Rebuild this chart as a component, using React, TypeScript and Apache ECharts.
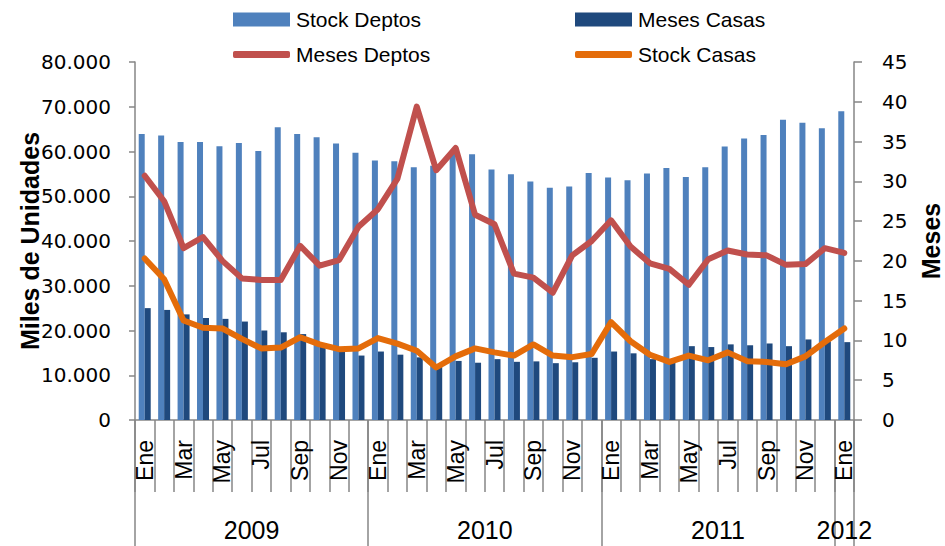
import React, { useEffect, useRef } from 'react';
import * as echarts from 'echarts';

const categories = [
  'Ene', 'Feb', 'Mar', 'Abr', 'May', 'Jun', 'Jul', 'Ago', 'Sep', 'Oct', 'Nov', 'Dic',
  'Ene', 'Feb', 'Mar', 'Abr', 'May', 'Jun', 'Jul', 'Ago', 'Sep', 'Oct', 'Nov', 'Dic',
  'Ene', 'Feb', 'Mar', 'Abr', 'May', 'Jun', 'Jul', 'Ago', 'Sep', 'Oct', 'Nov', 'Dic',
  'Ene',
];

const yearLabels = ['2009', '2010', '2011', '2012'];
const yearCenters = [6, 18, 30, 36.5];
const yearBounds = [0, 12, 24, 36, 37];

const stockDeptos = [
  63900, 63600, 62100, 62100, 61200, 61900, 60100, 65400, 63900, 63200, 61800, 59700,
  58000, 57800, 56500, 56800, 59600, 59400, 56000, 54900, 53300, 51900, 52200, 55200,
  54200, 53600, 55100, 56300, 54300, 56500, 61100, 62900, 63700, 67100, 66400, 65200,
  69000,
];

const mesesCasas = [
  25000, 24600, 23600, 22800, 22600, 22000, 20000, 19600, 19200, 16800, 15800, 14400,
  15300, 14600, 14000, 12000, 13200, 12800, 13600, 13000, 13100, 12700, 12900, 13900,
  15300, 14900, 13600, 12800, 16500, 16300, 16900, 16700, 17100, 16500, 18000, 17600,
  17400,
];

const mesesDeptos = [
  30.7, 27.5, 21.6, 23.0, 20.0, 17.8, 17.6, 17.6, 21.9, 19.4, 20.1, 24.3,
  26.5, 30.3, 39.4, 31.4, 34.2, 25.8, 24.6, 18.4, 17.9, 16.0, 20.7, 22.5,
  25.1, 21.8, 19.7, 19.0, 17.0, 20.2, 21.3, 20.8, 20.7, 19.5, 19.6, 21.6,
  21.0,
];

const stockCasas = [
  20.3, 17.7, 12.5, 11.6, 11.5, 10.2, 9.0, 9.1, 10.4, 9.5, 8.9, 9.0,
  10.3, 9.6, 8.7, 6.6, 8.0, 9.0, 8.5, 8.1, 9.5, 8.1, 7.9, 8.3,
  12.3, 9.9, 8.2, 7.3, 8.1, 7.5, 8.5, 7.4, 7.3, 7.0, 8.0, 9.8,
  11.5,
];

const axisColor = '#868686';
const LIB = '"Liberation Sans", Arial, sans-serif';
const DEJ = '"DejaVu Sans", sans-serif';

export default function App() {
  const ref = useRef<HTMLDivElement>(null);

  useEffect(() => {
    if (!ref.current) return;
    const chart = echarts.init(ref.current, undefined, { renderer: 'svg' });

    const legendItem = (name: string, left: number, top: number, isLine: boolean) => ({
      data: [name],
      left,
      top,
      padding: 0,
      itemGap: 0,
      itemWidth: 57,
      itemHeight: isLine ? 7 : 14,
      icon: isLine ? 'roundRect' : 'rect',
      textStyle: { fontSize: 21, color: '#000', fontFamily: LIB, padding: [0, 0, 0, 1] },
    });

    const option: any = {
      animation: false,
      backgroundColor: '#ffffff',
      textStyle: { fontFamily: LIB },
      grid: { left: 135, right: 91, top: 62, bottom: 126, containLabel: false },
      legend: [
        legendItem('Stock Deptos', 233, 9, false),
        legendItem('Meses Casas', 575, 9, false),
        legendItem('Meses Deptos', 233, 44, true),
        legendItem('Stock Casas', 575, 44, true),
      ],
      xAxis: [
        {
          type: 'category',
          data: categories,
          boundaryGap: true,
          position: 'bottom',
          axisLine: { show: true, lineStyle: { color: axisColor, width: 1.5 } },
          axisTick: { show: true, interval: 0, length: 72, lineStyle: { color: axisColor, width: 1.5 } },
          axisLabel: {
            interval: 1,
            rotate: 90,
            fontSize: 23,
            margin: 20,
            color: '#000',
            fontFamily: LIB,
          },
          splitLine: { show: false },
        },
        {
          type: 'value',
          min: 0,
          max: 37,
          position: 'bottom',
          offset: 0,
          axisLine: { show: false },
          splitLine: { show: false },
          axisTick: {
            show: true,
            customValues: yearBounds,
            length: 126,
            lineStyle: { color: axisColor, width: 1.5 },
          },
          axisLabel: {
            show: true,
            customValues: yearCenters,
            formatter: (v: number) => {
              const i = yearCenters.indexOf(v);
              return i >= 0 ? yearLabels[i] : '';
            },
            fontSize: 25,
            margin: 97,
            color: '#000',
            fontFamily: LIB,
          },
        },
      ],
      yAxis: [
        {
          type: 'value',
          position: 'left',
          min: 0,
          max: 80000,
          interval: 10000,
          axisLine: { show: true, lineStyle: { color: axisColor, width: 1.5 } },
          axisTick: { show: true, length: 6, lineStyle: { color: axisColor, width: 1.5 } },
          splitLine: { show: false },
          axisLabel: {
            formatter: (v: number) => (v === 0 ? '0' : v / 1000 + '.000'),
            fontSize: 20,
            margin: 24,
            color: '#000',
            fontFamily: DEJ,
          },
        },
        {
          type: 'value',
          position: 'right',
          min: 0,
          max: 45,
          interval: 5,
          axisLine: { show: true, lineStyle: { color: axisColor, width: 1.5 } },
          axisTick: { show: true, length: 8, lineStyle: { color: axisColor, width: 1.5 } },
          splitLine: { show: false },
          axisLabel: {
            fontSize: 20,
            margin: 28,
            color: '#000',
            fontFamily: DEJ,
          },
        },
      ],
      series: [
        {
          name: 'Stock Deptos',
          type: 'bar',
          xAxisIndex: 0,
          yAxisIndex: 0,
          data: stockDeptos,
          barWidth: 6,
          barGap: '0%',
          itemStyle: { color: '#4F81BD' },
        },
        {
          name: 'Meses Casas',
          type: 'bar',
          xAxisIndex: 0,
          yAxisIndex: 0,
          data: mesesCasas,
          barWidth: 6,
          barGap: '0%',
          itemStyle: { color: '#1F497D' },
        },
        {
          name: 'Meses Deptos',
          type: 'line',
          xAxisIndex: 0,
          yAxisIndex: 1,
          data: mesesDeptos,
          symbol: 'none',
          showSymbol: false,
          itemStyle: { color: '#C0504D' },
          lineStyle: { color: '#C0504D', width: 6, cap: 'round', join: 'round' },
          z: 3,
        },
        {
          name: 'Stock Casas',
          type: 'line',
          xAxisIndex: 0,
          yAxisIndex: 1,
          data: stockCasas,
          symbol: 'none',
          showSymbol: false,
          itemStyle: { color: '#E46C0A' },
          lineStyle: { color: '#E46C0A', width: 6, cap: 'round', join: 'round' },
          z: 4,
        },
      ],
      graphic: [
        {
          type: 'text',
          x: 30,
          y: 241,
          rotation: Math.PI / 2,
          style: {
            text: 'Miles de Unidades',
            fontSize: 25,
            fontWeight: 'bold',
            fontFamily: LIB,
            fill: '#000',
            align: 'center',
            verticalAlign: 'middle',
          },
          z: 100,
        },
        {
          type: 'text',
          x: 931,
          y: 241,
          rotation: Math.PI / 2,
          style: {
            text: 'Meses',
            fontSize: 25,
            fontWeight: 'bold',
            fontFamily: LIB,
            fill: '#000',
            align: 'center',
            verticalAlign: 'middle',
          },
          z: 100,
        },
      ],
    };

    chart.setOption(option);
    return () => {
      chart.dispose();
    };
  }, []);

  return (
    <div
      ref={ref}
      style={{ position: 'absolute', left: 0, top: 0, width: 945, height: 546, background: '#fff' }}
    />
  );
}
